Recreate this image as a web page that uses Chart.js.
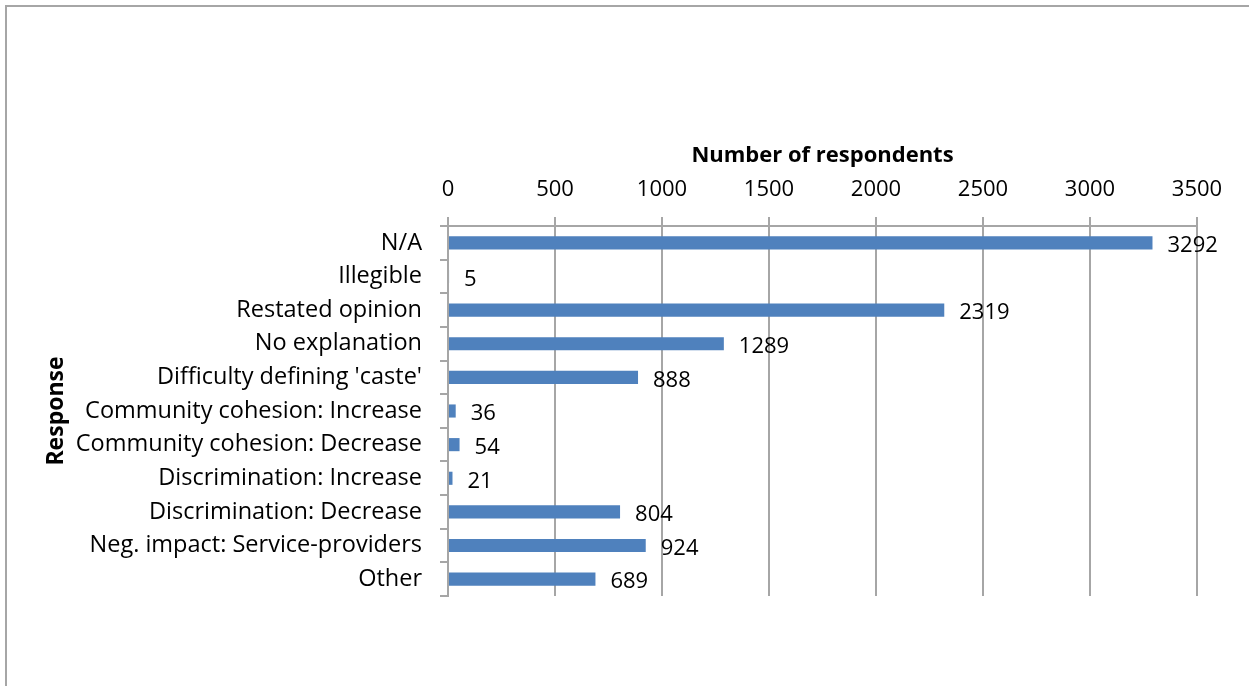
<!DOCTYPE html>
<html>
<head>
<meta charset="utf-8">
<script src="https://cdn.jsdelivr.net/npm/chart.js@4"></script>
<style>
  html, body { margin: 0; padding: 0; background: #fff; overflow: hidden; }
  .frame { position: absolute; left: 5px; top: 5px; width: 2000px; height: 2000px; border: 2px solid #a6a6a6; }
  .wrap { position: absolute; left: 0; top: 0; width: 1249px; height: 686px; }
</style>
</head>
<body>
<div class="frame"></div>
<div class="wrap"><canvas id="responseChart" width="1249" height="686"></canvas></div>
<script>
const categories = [
    'N/A',
    'Illegible',
    'Restated opinion',
    'No explanation',
    "Difficulty defining 'caste'",
    'Community cohesion: Increase',
    'Community cohesion: Decrease',
    'Discrimination: Increase',
    'Discrimination: Decrease',
    'Neg. impact: Service-providers',
    'Other'
];
const respondents = [3292, 5, 2319, 1289, 888, 36, 54, 21, 804, 924, 689];
const xTicks = [0, 500, 1000, 1500, 2000, 2500, 3000, 3500];

const FONT = '"Open Sans", Lato, "Liberation Sans", sans-serif';
const GRID = '#a6a6a6';
const NUM_SIZE = 22;

// writes the count just past the end of each bar
const valueLabels = {
    id: 'valueLabels',
    afterDatasetsDraw(chart) {
        const ctx = chart.ctx;
        const meta = chart.getDatasetMeta(0);
        ctx.save();
        ctx.font = NUM_SIZE + 'px ' + FONT;
        ctx.fillStyle = '#000';
        ctx.textAlign = 'left';
        ctx.textBaseline = 'middle';
        meta.data.forEach((bar, i) => {
            ctx.fillText(String(respondents[i]), bar.x + 15, bar.y + 3);
        });
        ctx.restore();
    }
};

const ctx = document.getElementById('responseChart').getContext('2d');
const responseChart = new Chart(ctx, {
    type: 'bar',
    data: {
        labels: categories,
        datasets: [{
            label: 'Number of respondents',
            data: respondents,
            backgroundColor: '#4f81bd',
            borderWidth: 0,
            barPercentage: 0.39,
            categoryPercentage: 1
        }]
    },
    options: {
        indexAxis: 'y',
        responsive: false,
        animation: false,
        layout: { padding: { left: 39, top: 139, right: 52, bottom: 90 } },
        plugins: {
            legend: { display: false },
            tooltip: { enabled: false }
        },
        scales: {
            x: {
                position: 'top',
                min: 0,
                max: 3500,
                afterBuildTicks(scale) {
                    scale.ticks = xTicks.map(v => ({ value: v }));
                },
                afterFit(scale) { scale.height = 87; },
                grid: { color: GRID, lineWidth: 2, tickLength: 9 },
                border: { color: GRID, width: 2 },
                ticks: {
                    color: '#000',
                    padding: 14,
                    maxRotation: 0,
                    callback: v => String(v),
                    font: { family: FONT, size: NUM_SIZE }
                },
                title: {
                    display: true,
                    text: 'Number of respondents',
                    color: '#000',
                    padding: 4,
                    font: { family: FONT, size: 22, weight: 'bold' }
                }
            },
            y: {
                afterFit(scale) { scale.width = 409; },
                grid: { offset: true, drawOnChartArea: false, color: GRID, lineWidth: 2, tickLength: 8 },
                border: { color: GRID, width: 2 },
                ticks: {
                    color: '#000',
                    padding: 18,
                    autoSkip: false,
                    font: { family: FONT, size: 23.5 }
                },
                title: {
                    display: true,
                    text: 'Response',
                    color: '#000',
                    padding: 4,
                    font: { family: FONT, size: 23, weight: 'bold' }
                }
            }
        }
    },
    plugins: [valueLabels]
});
</script>
</body>
</html>
